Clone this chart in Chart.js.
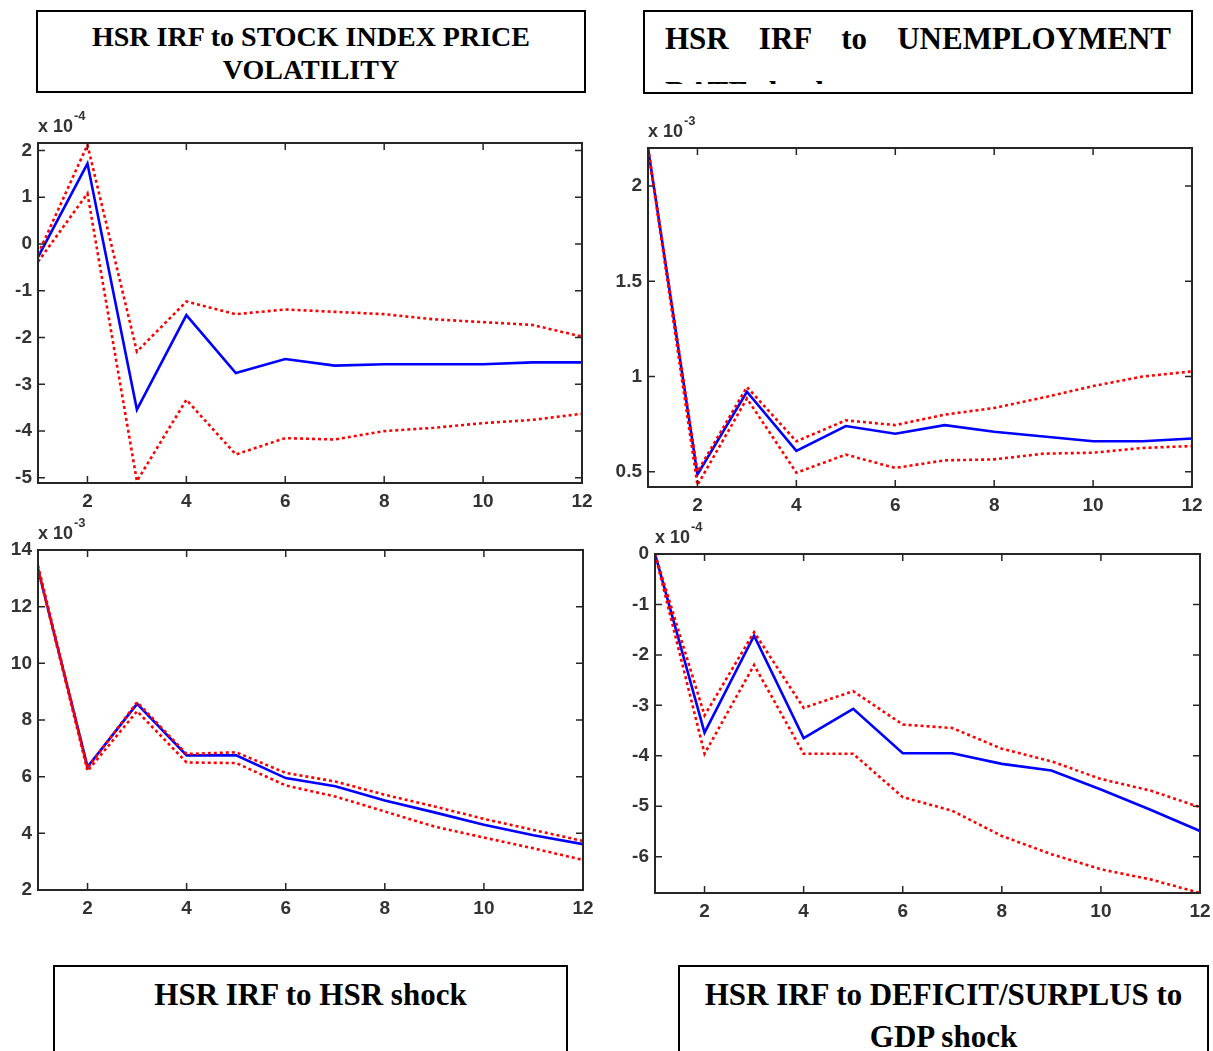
<!DOCTYPE html>
<html>
<head>
<meta charset="utf-8">
<script src="https://cdn.jsdelivr.net/npm/chart.js@4.4.1/dist/chart.umd.min.js"></script>
<style>
  body { margin: 0; background: #fff; width: 1213px; height: 1051px; overflow: hidden; position: relative; }
  .box { position: absolute; border: 2px solid #000; box-sizing: border-box; font-family: "Liberation Serif", "Times New Roman", serif; font-weight: bold; color: #000; text-align: center; }
  .panel { position: absolute; }
</style>
</head>
<body>

<div class="box" style="left:36px;top:10px;width:550px;height:83px;font-size:28px;line-height:33px;padding-top:8px;">
  HSR IRF to STOCK INDEX PRICE<br>VOLATILITY
</div>
<div class="box" style="left:643px;top:10px;width:550px;height:84px;">
  <div style="position:absolute;left:20px;right:20px;top:0;height:72px;overflow:hidden;font-size:31px;line-height:54px;text-align:justify;">
    HSR IRF to UNEMPLOYMENT RATE shock
  </div>
</div>
<div class="box" style="left:53px;top:965px;width:515px;height:100px;font-size:31px;line-height:42px;padding-top:7px;">
  HSR IRF to HSR shock
</div>
<div class="box" style="left:678px;top:965px;width:531px;height:100px;font-size:31px;line-height:42px;padding-top:7px;">
  HSR IRF to DEFICIT/SURPLUS to<br>GDP shock
</div>

<div class="panel" style="left:-12px;top:98px;"><canvas id="c1" width="614" height="425"></canvas></div>
<div class="panel" style="left:598px;top:103px;"><canvas id="c2" width="614" height="424"></canvas></div>
<div class="panel" style="left:-12px;top:505px;"><canvas id="c3" width="615" height="425"></canvas></div>
<div class="panel" style="left:605px;top:509px;"><canvas id="c4" width="615" height="424"></canvas></div>

<script>
// horizon (periods after the shock)
const horizon = [1, 2, 3, 4, 5, 6, 7, 8, 9, 10, 11, 12];
const xTicks = [2, 4, 6, 8, 10, 12];

// stock index price volatility shock (x 10^-4)
const stockIrf   = [-0.28, 1.72, -3.54, -1.52, -2.76, -2.46, -2.6, -2.57, -2.57, -2.57, -2.53, -2.53];
const stockUpper = [-0.22, 2.12, -2.3, -1.23, -1.5, -1.4, -1.45, -1.5, -1.61, -1.67, -1.73, -1.98];
const stockLower = [-0.38, 1.08, -5.07, -3.33, -4.5, -4.15, -4.18, -4.0, -3.93, -3.83, -3.76, -3.63];
const stockYTicks = [-5, -4, -3, -2, -1, 0, 1, 2];

// unemployment rate shock (x 10^-3)
const unempIrf   = [2.2, 0.486, 0.92, 0.61, 0.74, 0.70, 0.745, 0.71, 0.685, 0.66, 0.66, 0.675];
const unempUpper = [2.2, 0.50, 0.945, 0.66, 0.77, 0.745, 0.80, 0.835, 0.89, 0.95, 1.0, 1.027];
const unempLower = [2.2, 0.43, 0.885, 0.495, 0.59, 0.52, 0.56, 0.565, 0.595, 0.60, 0.625, 0.635];
const unempYTicks = [0.5, 1, 1.5, 2];

// HSR own shock (x 10^-3)
const hsrIrf   = [13.33, 6.35, 8.57, 6.75, 6.75, 5.95, 5.66, 5.16, 4.74, 4.30, 3.93, 3.62];
const hsrUpper = [13.45, 6.3, 8.63, 6.8, 6.86, 6.13, 5.83, 5.36, 4.95, 4.51, 4.12, 3.73];
const hsrLower = [13.33, 6.2, 8.31, 6.5, 6.48, 5.69, 5.3, 4.77, 4.24, 3.85, 3.47, 3.06];
const hsrYTicks = [2, 4, 6, 8, 10, 12, 14];

// deficit/surplus to GDP shock (x 10^-4)
const deficitIrf   = [0, -3.54, -1.62, -3.65, -3.07, -3.95, -3.95, -4.16, -4.29, -4.67, -5.07, -5.49];
const deficitUpper = [0, -3.2, -1.55, -3.05, -2.72, -3.38, -3.45, -3.86, -4.11, -4.46, -4.69, -5.02];
const deficitLower = [0, -3.96, -2.2, -3.96, -3.96, -4.82, -5.09, -5.59, -5.95, -6.25, -6.45, -6.72];
const deficitYTicks = [-6, -5, -4, -3, -2, -1, 0];

const tickFont = { family: "'Liberation Sans', Arial, sans-serif", size: 19, weight: "bold" };
const tickColor = "#333";

// frame, inward tick marks on all four sides and the "x 10^n" label
const matlabAxes = {
  id: "matlabAxes",
  afterDatasetsDraw(chart, args, opts) {
    const { ctx, chartArea: a, scales } = chart;
    const len = 7;
    ctx.save();
    ctx.strokeStyle = "#262626";
    ctx.lineWidth = 1.5;
    ctx.beginPath();
    scales.x.ticks.forEach(t => {
      const px = scales.x.getPixelForValue(t.value);
      ctx.moveTo(px, a.bottom); ctx.lineTo(px, a.bottom - len);
      ctx.moveTo(px, a.top); ctx.lineTo(px, a.top + len);
    });
    scales.y.ticks.forEach(t => {
      const py = scales.y.getPixelForValue(t.value);
      ctx.moveTo(a.left, py); ctx.lineTo(a.left + len, py);
      ctx.moveTo(a.right, py); ctx.lineTo(a.right - len, py);
    });
    ctx.stroke();
    ctx.lineWidth = 2;
    ctx.strokeRect(a.left, a.top, a.right - a.left, a.bottom - a.top);

    ctx.fillStyle = tickColor;
    ctx.textBaseline = "middle";
    ctx.textAlign = "left";
    ctx.font = "bold 18px 'Liberation Sans', Arial, sans-serif";
    ctx.fillText("x 10", a.left, a.top - 16);
    const w = ctx.measureText("x 10").width;
    ctx.font = "bold 13px 'Liberation Sans', Arial, sans-serif";
    ctx.fillText(opts.exp, a.left + 1 + w, a.top - 27);
    ctx.restore();
  }
};

function makeChart(id, irf, upper, lower, yTicks, yMin, yMax, exp) {
  const line = (data, color, dashed) => ({
    data: horizon.map((h, i) => ({ x: h, y: data[i] })),
    borderColor: color,
    borderWidth: 2.6,
    borderDash: dashed ? [3, 3] : [],
    pointRadius: 0,
    tension: 0,
    fill: false
  });
  return new Chart(document.getElementById(id), {
    type: "line",
    data: {
      datasets: [
        line(upper, "#ff0000", true),
        line(lower, "#ff0000", true),
        line(irf, "#0000ff", false)
      ]
    },
    options: {
      responsive: false,
      animation: false,
      devicePixelRatio: 1,
      layout: { padding: { top: 45, right: 20, left: 0, bottom: 0 } },
      plugins: { legend: { display: false }, tooltip: { enabled: false }, matlabAxes: { exp: exp } },
      scales: {
        x: {
          type: "linear", min: 1, max: 12,
          afterBuildTicks: s => { s.ticks = xTicks.map(v => ({ value: v })); },
          afterFit: s => { s.height = 40; },
          grid: { display: false, drawTicks: false },
          border: { display: false },
          ticks: { font: tickFont, color: tickColor, padding: 7, maxRotation: 0, callback: v => String(v) }
        },
        y: {
          type: "linear", min: yMin, max: yMax,
          afterBuildTicks: s => { s.ticks = yTicks.map(v => ({ value: v })); },
          afterFit: s => { s.width = 50; },
          grid: { display: false, drawTicks: false },
          border: { display: false },
          ticks: { font: tickFont, color: tickColor, padding: 6, callback: v => String(v) }
        }
      }
    },
    plugins: [matlabAxes]
  });
}

makeChart("c1", stockIrf, stockUpper, stockLower, stockYTicks, -5.11, 2.16, "-4");
makeChart("c2", unempIrf, unempUpper, unempLower, unempYTicks, 0.42, 2.2, "-3");
makeChart("c3", hsrIrf, hsrUpper, hsrLower, hsrYTicks, 2, 14, "-3");
makeChart("c4", deficitIrf, deficitUpper, deficitLower, deficitYTicks, -6.72, 0, "-4");
</script>
</body>
</html>
